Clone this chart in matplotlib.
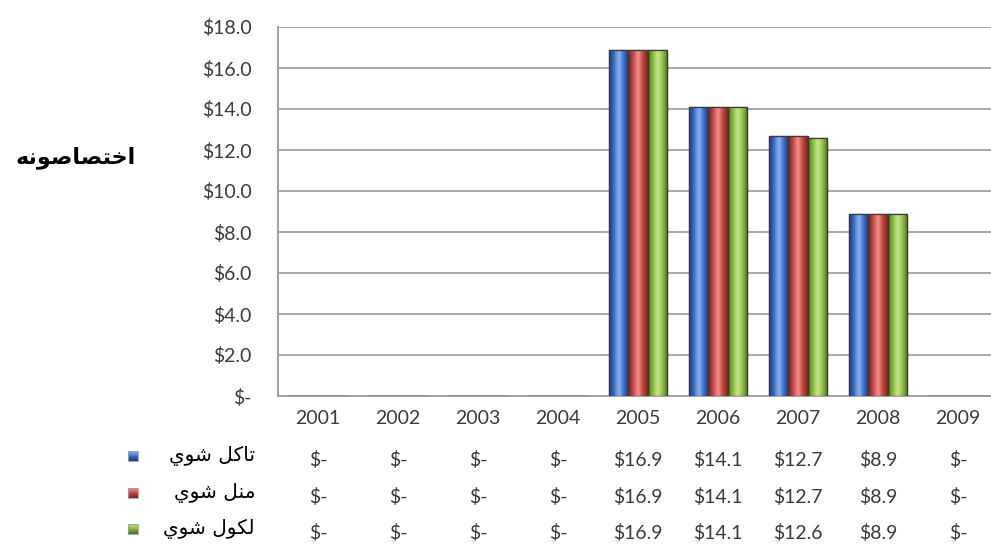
import numpy as np
import matplotlib
matplotlib.use("Agg")
import matplotlib.pyplot as plt
from matplotlib.colors import LinearSegmentedColormap
import matplotlib.transforms as mtransforms

# ---------------- data ----------------
years = ["2001", "2002", "2003", "2004", "2005", "2006", "2007", "2008", "2009"]
allocated = [0, 0, 0, 0, 16.9, 14.1, 12.7, 8.9, 0]
approved = [0, 0, 0, 0, 16.9, 14.1, 12.7, 8.9, 0]
spent = [0, 0, 0, 0, 16.9, 14.1, 12.6, 8.9, 0]
series_names = ["تاكل شوي", "منل شوي", "لكول شوي"]
y_label = "اختصاصونه"
y_ticks = [0, 2, 4, 6, 8, 10, 12, 14, 16, 18]

# ---------------- simple Arabic shaping ----------------
FORMS = {  # isolated, final, initial, medial
    "ا": ("\uFE8D", "\uFE8E", None, None),
    "خ": ("\uFEA5", "\uFEA6", "\uFEA7", "\uFEA8"),
    "ت": ("\uFE95", "\uFE96", "\uFE97", "\uFE98"),
    "ص": ("\uFEB9", "\uFEBA", "\uFEBB", "\uFEBC"),
    "و": ("\uFEED", "\uFEEE", None, None),
    "ن": ("\uFEE5", "\uFEE6", "\uFEE7", "\uFEE8"),
    "ه": ("\uFEE9", "\uFEEA", "\uFEEB", "\uFEEC"),
    "ك": ("\uFED9", "\uFEDA", "\uFEDB", "\uFEDC"),
    "ل": ("\uFEDD", "\uFEDE", "\uFEDF", "\uFEE0"),
    "ش": ("\uFEB5", "\uFEB6", "\uFEB7", "\uFEB8"),
    "ي": ("\uFEF1", "\uFEF2", "\uFEF3", "\uFEF4"),
    "م": ("\uFEE1", "\uFEE2", "\uFEE3", "\uFEE4"),
}


def shape(text):
    out = []
    n = len(text)
    for i, ch in enumerate(text):
        if ch not in FORMS:
            out.append(ch)
            continue
        iso, fin, ini, med = FORMS[ch]
        prev = text[i - 1] if i > 0 else None
        nxt = text[i + 1] if i < n - 1 else None
        join_prev = prev in FORMS and FORMS[prev][2] is not None
        join_next = nxt in FORMS and ini is not None
        if join_prev and join_next:
            out.append(med)
        elif join_prev:
            out.append(fin)
        elif join_next:
            out.append(ini)
        else:
            out.append(iso)
    return "".join(out)[::-1]


# ---------------- figure ----------------
W, H = 991, 546
fig = plt.figure(figsize=(W / 100, H / 100), dpi=100)
fig.patch.set_facecolor("white")

ax_left, ax_right, ax_top, ax_bottom = 278, 991, 27, 396
ax = fig.add_axes([ax_left / W, 1 - ax_bottom / H, (ax_right - ax_left) / W, (ax_bottom - ax_top) / H])

num_font = "Lato"
num_size = 14
txt_color = "#3a3a3a"

series = [allocated, approved, spent]
base_cols = ["#3A6EC8", "#C8453F", "#8DC03E"]
grad_cols = [
    ["#1E3C78", "#3A6EC8", "#8CB4EE", "#3A6EC8", "#1E3C78"],
    ["#7A2420", "#C8453F", "#EE9590", "#C8453F", "#7A2420"],
    ["#4C6E1E", "#8DC03E", "#C8E694", "#8DC03E", "#4C6E1E"],
]
width = 0.24
offsets = [-width, 0, width]
x = np.arange(len(years))

ax.set_xlim(-0.5, -0.5 + (ax_right - ax_left) / 80.0)
ax.set_ylim(0, 18)

for vals, off, col, gcols in zip(series, offsets, base_cols, grad_cols):
    bars = ax.bar(x + off, vals, width=width, color=col, edgecolor="#3a3a3a", linewidth=0.9, zorder=3)
    cmap = LinearSegmentedColormap.from_list("g", gcols)
    grad = np.linspace(0, 1, 64).reshape(1, -1)
    for b in bars:
        h = b.get_height()
        if h <= 0:
            continue
        x0 = b.get_x()
        im = ax.imshow(grad, cmap=cmap, extent=(x0, x0 + b.get_width(), 0, h),
                       aspect="auto", zorder=3.5, interpolation="bicubic")
        im.set_clip_path(b)
        ax.bar(b.get_x() + b.get_width() / 2, h, width=b.get_width(), fill=False,
               edgecolor="#3a3a3a", linewidth=0.9, zorder=4)

ax.set_yticks(y_ticks)
ax.set_yticklabels(["$-" if v == 0 else f"${v:.1f}" for v in y_ticks],
                   fontfamily=num_font, fontsize=num_size, color=txt_color)
ax.tick_params(axis="y", length=0, pad=19)
ax.set_xticks([])
ax.grid(axis="y", color="#a8a8a8", linewidth=1.4, zorder=0)
ax.set_axisbelow(True)
for s in ["top", "right"]:
    ax.spines[s].set_visible(False)
for s in ["left", "bottom"]:
    ax.spines[s].set_color("#a0a0a0")
    ax.spines[s].set_linewidth(1.4)

# category labels and data table
trans = mtransforms.blended_transform_factory(ax.transData, fig.transFigure)
for xi, yr in zip(x, years):
    ax.text(xi, 1 - 418 / H, yr, transform=trans, ha="center", va="center",
            fontfamily=num_font, fontsize=num_size, color=txt_color, clip_on=False)

row_y = [460, 497, 533]
for r, (vals, col, gcols, name) in enumerate(zip(series, base_cols, grad_cols, series_names)):
    yy = 1 - row_y[r] / H
    for xi, v in zip(x, vals):
        lab = "$-" if v == 0 else f"${v:.1f}"
        ax.text(xi, yy, lab, transform=trans, ha="center", va="center",
                fontfamily=num_font, fontsize=num_size, color=txt_color, clip_on=False)
    # legend key
    kx, ky, ks = 133, row_y[r], 10
    key = fig.add_axes([(kx - ks / 2) / W, 1 - (ky - 4 + ks / 2) / H, ks / W, ks / H])
    key.imshow(np.linspace(1, 0, 16).reshape(-1, 1), cmap=LinearSegmentedColormap.from_list("k", [gcols[0], gcols[1], gcols[2]]),
               aspect="auto", extent=(0, 1, 0, 1))
    key.set_xticks([]); key.set_yticks([])
    for s in key.spines.values():
        s.set_color("#a0a0a0"); s.set_linewidth(0.6)
    fig.text(255 / W, 1 - (row_y[r] - 4) / H, shape(name), ha="right", va="center",
             fontfamily="DejaVu Sans", fontsize=14.5, color="black")

fig.text(76 / W, 1 - 158 / H, shape(y_label), ha="center", va="center",
         fontfamily="DejaVu Sans", fontweight="bold", fontsize=16, color="black")

fig.savefig("out.png", dpi=100, facecolor="white")
